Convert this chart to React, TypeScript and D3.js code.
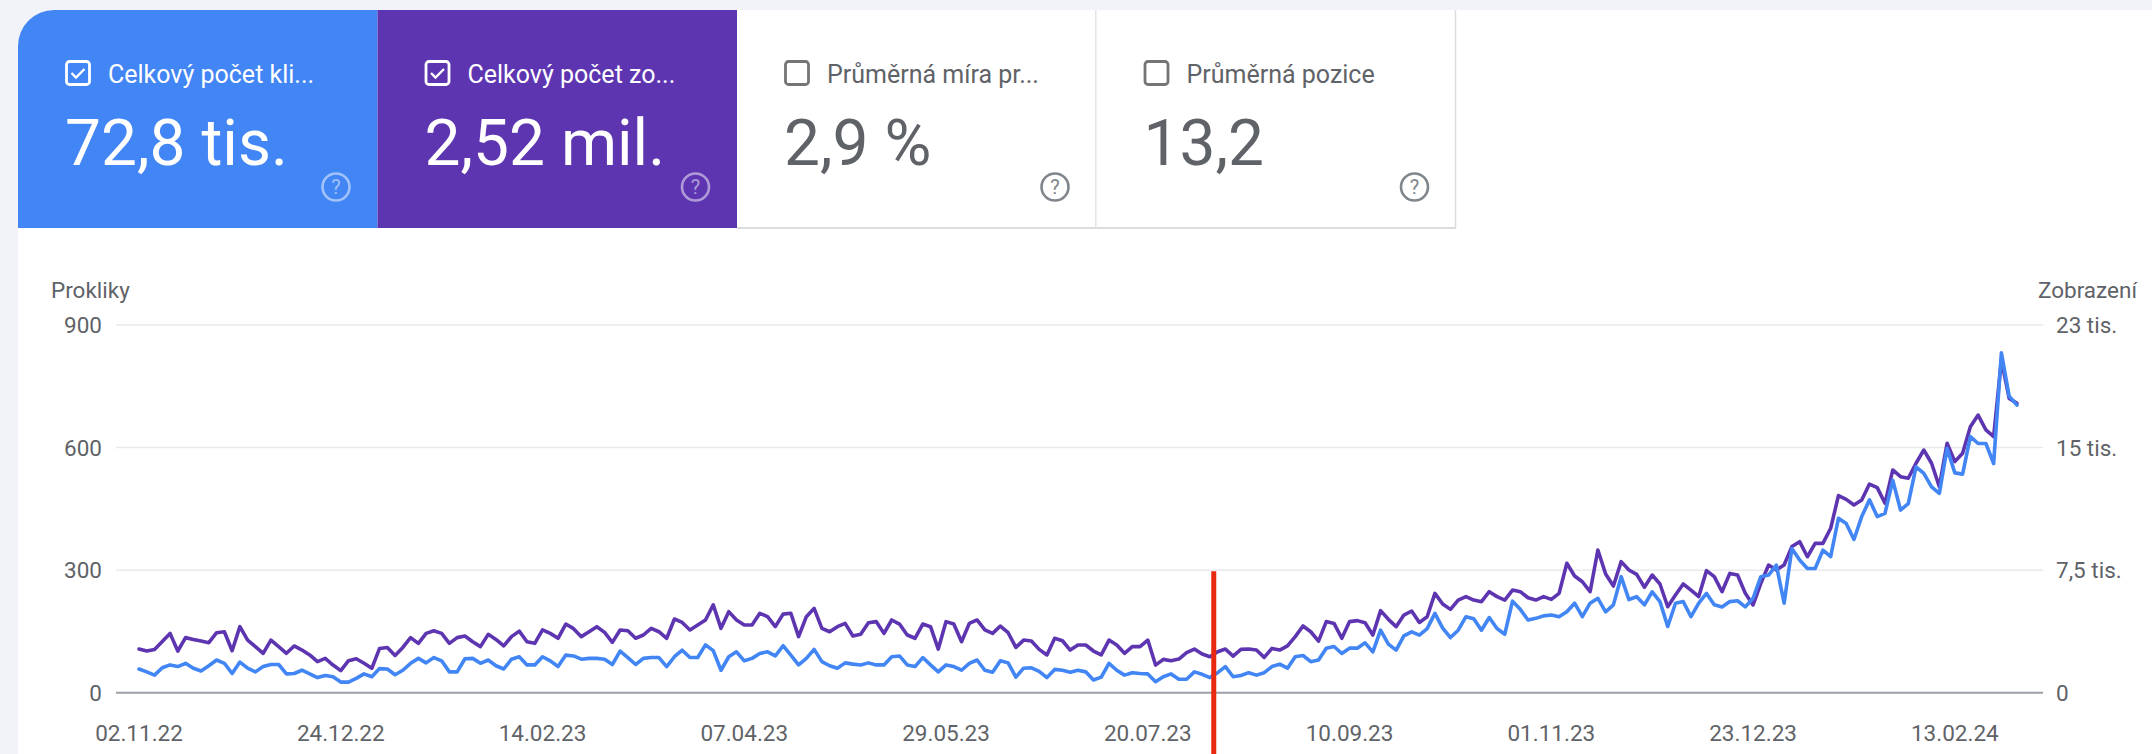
import React from 'react';
import * as d3 from 'd3';

// Search Console style performance chart: clicks (left axis) vs impressions (right axis)

const W = 2152;
const H = 754;

const startDate = '2022-11-02';
const stepDays = 2; // one reading every two days

// Celkový počet kliknutí (clicks)
const clicks = [
  58, 51, 43, 61, 68, 64, 72, 60, 53, 66,
  80, 72, 47, 75, 60, 51, 64, 69, 69, 46,
  47, 55, 46, 37, 42, 39, 26, 26, 35, 46,
  39, 59, 58, 44, 55, 72, 84, 73, 86, 78,
  51, 51, 83, 84, 72, 80, 66, 58, 82, 88,
  68, 68, 88, 78, 64, 92, 90, 82, 84, 84,
  82, 69, 102, 86, 69, 84, 86, 86, 64, 88,
  104, 86, 86, 117, 103, 55, 88, 100, 78, 84,
  96, 100, 90, 115, 92, 68, 84, 106, 76, 66,
  60, 73, 70, 68, 73, 68, 68, 88, 90, 68,
  64, 86, 68, 51, 68, 64, 55, 72, 80, 55,
  50, 78, 73, 38, 60, 61, 52, 37, 57, 55,
  50, 55, 51, 31, 38, 72, 55, 43, 49, 47,
  46, 27, 39, 46, 33, 33, 51, 45, 37, 49,
  64, 39, 42, 49, 43, 49, 64, 70, 60, 88,
  91, 76, 80, 109, 113, 96, 109, 109, 122, 100,
  153, 119, 104, 139, 149, 141, 157, 194, 158, 135,
  153, 186, 181, 153, 184, 157, 143, 224, 204, 178,
  182, 188, 190, 186, 198, 219, 186, 219, 231, 198,
  215, 284, 228, 235, 215, 247, 223, 162, 219, 223,
  186, 219, 243, 215, 210, 223, 225, 210, 231, 284,
  288, 312, 219, 353, 325, 304, 304, 349, 333, 427,
  414, 375, 431, 472, 431, 439, 520, 447, 463, 553,
  537, 504, 488, 598, 538, 535, 627, 610, 610, 561,
  832, 726, 704,
];

// Celkový počet zobrazení (impressions)
const impressions = [
  2670, 2550, 2650, 3140, 3630, 2550, 3370, 3260, 3160, 3060,
  3670, 3730, 2570, 4040, 3220, 2820, 2410, 3220, 2820, 2410,
  2860, 2610, 2310, 1900, 2100, 1690, 1350, 1960, 2080, 1800,
  1490, 2710, 2770, 2280, 2770, 3370, 3020, 3630, 3790, 3630,
  3020, 3370, 3470, 3120, 2820, 3570, 3260, 2860, 3430, 3770,
  3120, 3020, 3840, 3630, 3330, 4200, 3920, 3430, 3730, 4040,
  3690, 3080, 3840, 3790, 3330, 3530, 3940, 3730, 3330, 4510,
  4300, 3840, 4140, 4450, 5370, 3940, 4960, 4450, 4140, 4140,
  4860, 4650, 4040, 4810, 4860, 3430, 4650, 5160, 3940, 3730,
  4040, 4240, 3470, 3570, 4280, 4350, 3630, 4450, 4200, 3530,
  3330, 4200, 4040, 2670, 4350, 4200, 3120, 4240, 4450, 3840,
  3630, 4080, 3670, 2770, 3220, 3160, 2650, 2310, 3330, 3180,
  2610, 2920, 2920, 2550, 2310, 3220, 2920, 2410, 2820, 2820,
  3220, 1690, 2040, 1960, 2060, 2450, 2670, 2370, 2200, 2510,
  2670, 2240, 2650, 2670, 2610, 2160, 2710, 2610, 2860, 3430,
  4080, 3730, 3160, 4350, 4240, 3330, 4350, 4410, 4280, 3530,
  5020, 4490, 4040, 4750, 5000, 4300, 4650, 6080, 5430, 5100,
  5670, 5880, 5670, 5570, 6180, 5880, 5670, 6280, 6180, 5810,
  5670, 5880, 5710, 6080, 7920, 7140, 6790, 6180, 8730, 7260,
  6530, 8020, 7510, 7240, 6450, 7200, 6650, 5260, 5980, 6650,
  6280, 5880, 7470, 7100, 6180, 7300, 7200, 6080, 5370, 6690,
  7810, 7510, 7810, 8940, 9240, 8320, 9140, 9140, 10060, 12060,
  11830, 11490, 11790, 12770, 12550, 11590, 13630, 13220, 13120, 14040,
  14850, 14040, 12610, 15260, 14140, 14650, 16280, 16990, 16080, 15670,
  20360, 18010, 17710,
];

const xTickLabels = [
  '02.11.22', '24.12.22', '14.02.23', '07.04.23', '29.05.23',
  '20.07.23', '10.09.23', '01.11.23', '23.12.23', '13.02.24',
];
const leftTicks = [0, 300, 600, 900];
const rightTicks = [0, 7500, 15000, 22500];
const rightTickLabels = ['0', '7,5 tis.', '15 tis.', '23 tis.'];

const cardLabels = ['Celkový počet kli...', 'Celkový počet zo...', 'Průměrná míra pr...', 'Průměrná pozice'];
const cardValues = ['72,8 tis.', '2,52 mil.', '2,9 %', '13,2'];
const cardChecked = [true, true, false, false];

const markerDate = '2023-08-06'; // red annotation line

const BLUE = '#4285f4';
const PURPLE = '#5e35b1';
const GREY_TEXT = '#5f6368';
const FONT = 'Roboto, "Noto Sans", sans-serif';

const parseIso = d3.utcParse('%Y-%m-%d');
const parseTick = d3.utcParse('%d.%m.%y');

const Checkbox = ({ x, y, checked }: { x: number; y: number; checked: boolean }) => {
  const c = checked ? '#fff' : '#757575';
  return (
    <g transform={`translate(${x},${y})`}>
      <rect x={1.5} y={1.5} width={23} height={23} rx={3} fill="none" stroke={c} strokeWidth={2.8} />
      {checked && (
        <path d="M6.5,13 L11,17.5 L19.5,9" fill="none" stroke={c} strokeWidth={2.4} />
      )}
    </g>
  );
};

const HelpIcon = ({ x, y, color }: { x: number; y: number; color: string }) => (
  <g transform={`translate(${x},${y})`}>
    <circle r={13.5} fill="none" stroke={color} strokeWidth={2.6} />
    <text y={7} textAnchor="middle" fontSize={20} fontFamily={FONT} fill={color}>?</text>
  </g>
);

export default function App() {
  const start = parseIso(startDate) as Date;
  const dates = clicks.map((_, i) => d3.utcDay.offset(start, i * stepDays));
  const end = dates[dates.length - 1];
  const spanDays = d3.utcDay.count(start, end);

  const pxPerDay = 3.88;
  const x = d3.scaleUtc().domain([start, end]).range([139, 139 + spanDays * pxPerDay]);
  const yLeft = d3.scaleLinear().domain([0, 900]).range([692.7, 325]);
  const yRight = d3.scaleLinear().domain([0, 22500]).range([692.7, 325]);

  const clickLine = d3.line<number>()
    .x((_, i) => x(dates[i]))
    .y(d => yLeft(d));
  const imprLine = d3.line<number>()
    .x((_, i) => x(dates[i]))
    .y(d => yRight(d));

  const gridX1 = 116;
  const gridX2 = 2043;

  const panelR = 36;
  const panelPath = `M18,${10 + panelR} A${panelR},${panelR} 0 0 1 ${18 + panelR},10 H${W} V${H} H18 Z`;

  const cardW = 359.5;
  const cardFill = [BLUE, PURPLE, '#fff', '#fff'];

  const markerX = x(parseIso(markerDate) as Date);
  const tickFont = 22.5;

  return (
    <div style={{ position: 'absolute', left: 0, top: 0 }}>
      <svg width={W} height={H} style={{ display: 'block' }}>
        <defs>
          <clipPath id="panel-clip">
            <path d={panelPath} />
          </clipPath>
        </defs>
        <rect width={W} height={H} fill="#f1f3f8" />
        <path d={panelPath} fill="#fff" />

        {/* metric cards */}
        <g clipPath="url(#panel-clip)">
          {cardLabels.map((label, i) => {
            const cx = 18 + i * cardW;
            const coloured = cardChecked[i];
            const textFill = coloured ? '#fff' : GREY_TEXT;
            return (
              <g key={label}>
                <rect x={cx} y={10} width={cardW} height={218} fill={cardFill[i]} />
                {!coloured && (
                  <>
                    <line x1={cx + cardW - 0.5} x2={cx + cardW - 0.5} y1={10} y2={228} stroke="#dadce0" strokeWidth={1.5} />
                    <line x1={cx} x2={cx + cardW} y1={228} y2={228} stroke="#dadce0" strokeWidth={2} />
                  </>
                )}
                <Checkbox x={cx + 47} y={60} checked={cardChecked[i]} />
                <text x={cx + 90} y={83} fontSize={25} fontFamily={FONT} fill={textFill}>{label}</text>
                <text x={cx + 47} y={165} fontSize={64} fontFamily={FONT} fill={textFill}>{cardValues[i]}</text>
                <HelpIcon x={cx + 318} y={187} color={coloured ? 'rgba(255,255,255,0.5)' : '#80868b'} />
              </g>
            );
          })}
        </g>

        {/* grid */}
        {leftTicks.map(t => (
          <line
            key={t}
            x1={gridX1}
            x2={gridX2}
            y1={yLeft(t)}
            y2={yLeft(t)}
            stroke={t === 0 ? '#9aa0a6' : '#e8eaed'}
            strokeWidth={t === 0 ? 2 : 1.5}
          />
        ))}

        {/* axis titles */}
        <text x={51} y={298} fontSize={tickFont} fontFamily={FONT} fill={GREY_TEXT}>Prokliky</text>
        <text x={2137} y={298} fontSize={tickFont} fontFamily={FONT} fill={GREY_TEXT} textAnchor="end">Zobrazení</text>

        {/* left ticks */}
        {leftTicks.map(t => (
          <text key={t} x={102} y={yLeft(t) + 8} fontSize={tickFont} fontFamily={FONT} fill={GREY_TEXT} textAnchor="end">
            {t}
          </text>
        ))}
        {/* right ticks */}
        {rightTicks.map((t, i) => (
          <text key={t} x={2056} y={yRight(t) + 8} fontSize={tickFont} fontFamily={FONT} fill={GREY_TEXT}>
            {rightTickLabels[i]}
          </text>
        ))}
        {/* x ticks */}
        {xTickLabels.map(l => (
          <text key={l} x={x(parseTick(l) as Date)} y={741} fontSize={tickFont} fontFamily={FONT} fill={GREY_TEXT} textAnchor="middle">
            {l}
          </text>
        ))}

        {/* series */}
        <path d={imprLine(impressions) || ''} fill="none" stroke={PURPLE} strokeWidth={3.6} strokeLinejoin="round" strokeLinecap="round" />
        <path d={clickLine(clicks) || ''} fill="none" stroke={BLUE} strokeWidth={3.6} strokeLinejoin="round" strokeLinecap="round" />

        {/* annotation */}
        <line x1={markerX} x2={markerX} y1={yLeft(300) + 1} y2={H} stroke="#e8290f" strokeWidth={5} />
      </svg>
    </div>
  );
}
